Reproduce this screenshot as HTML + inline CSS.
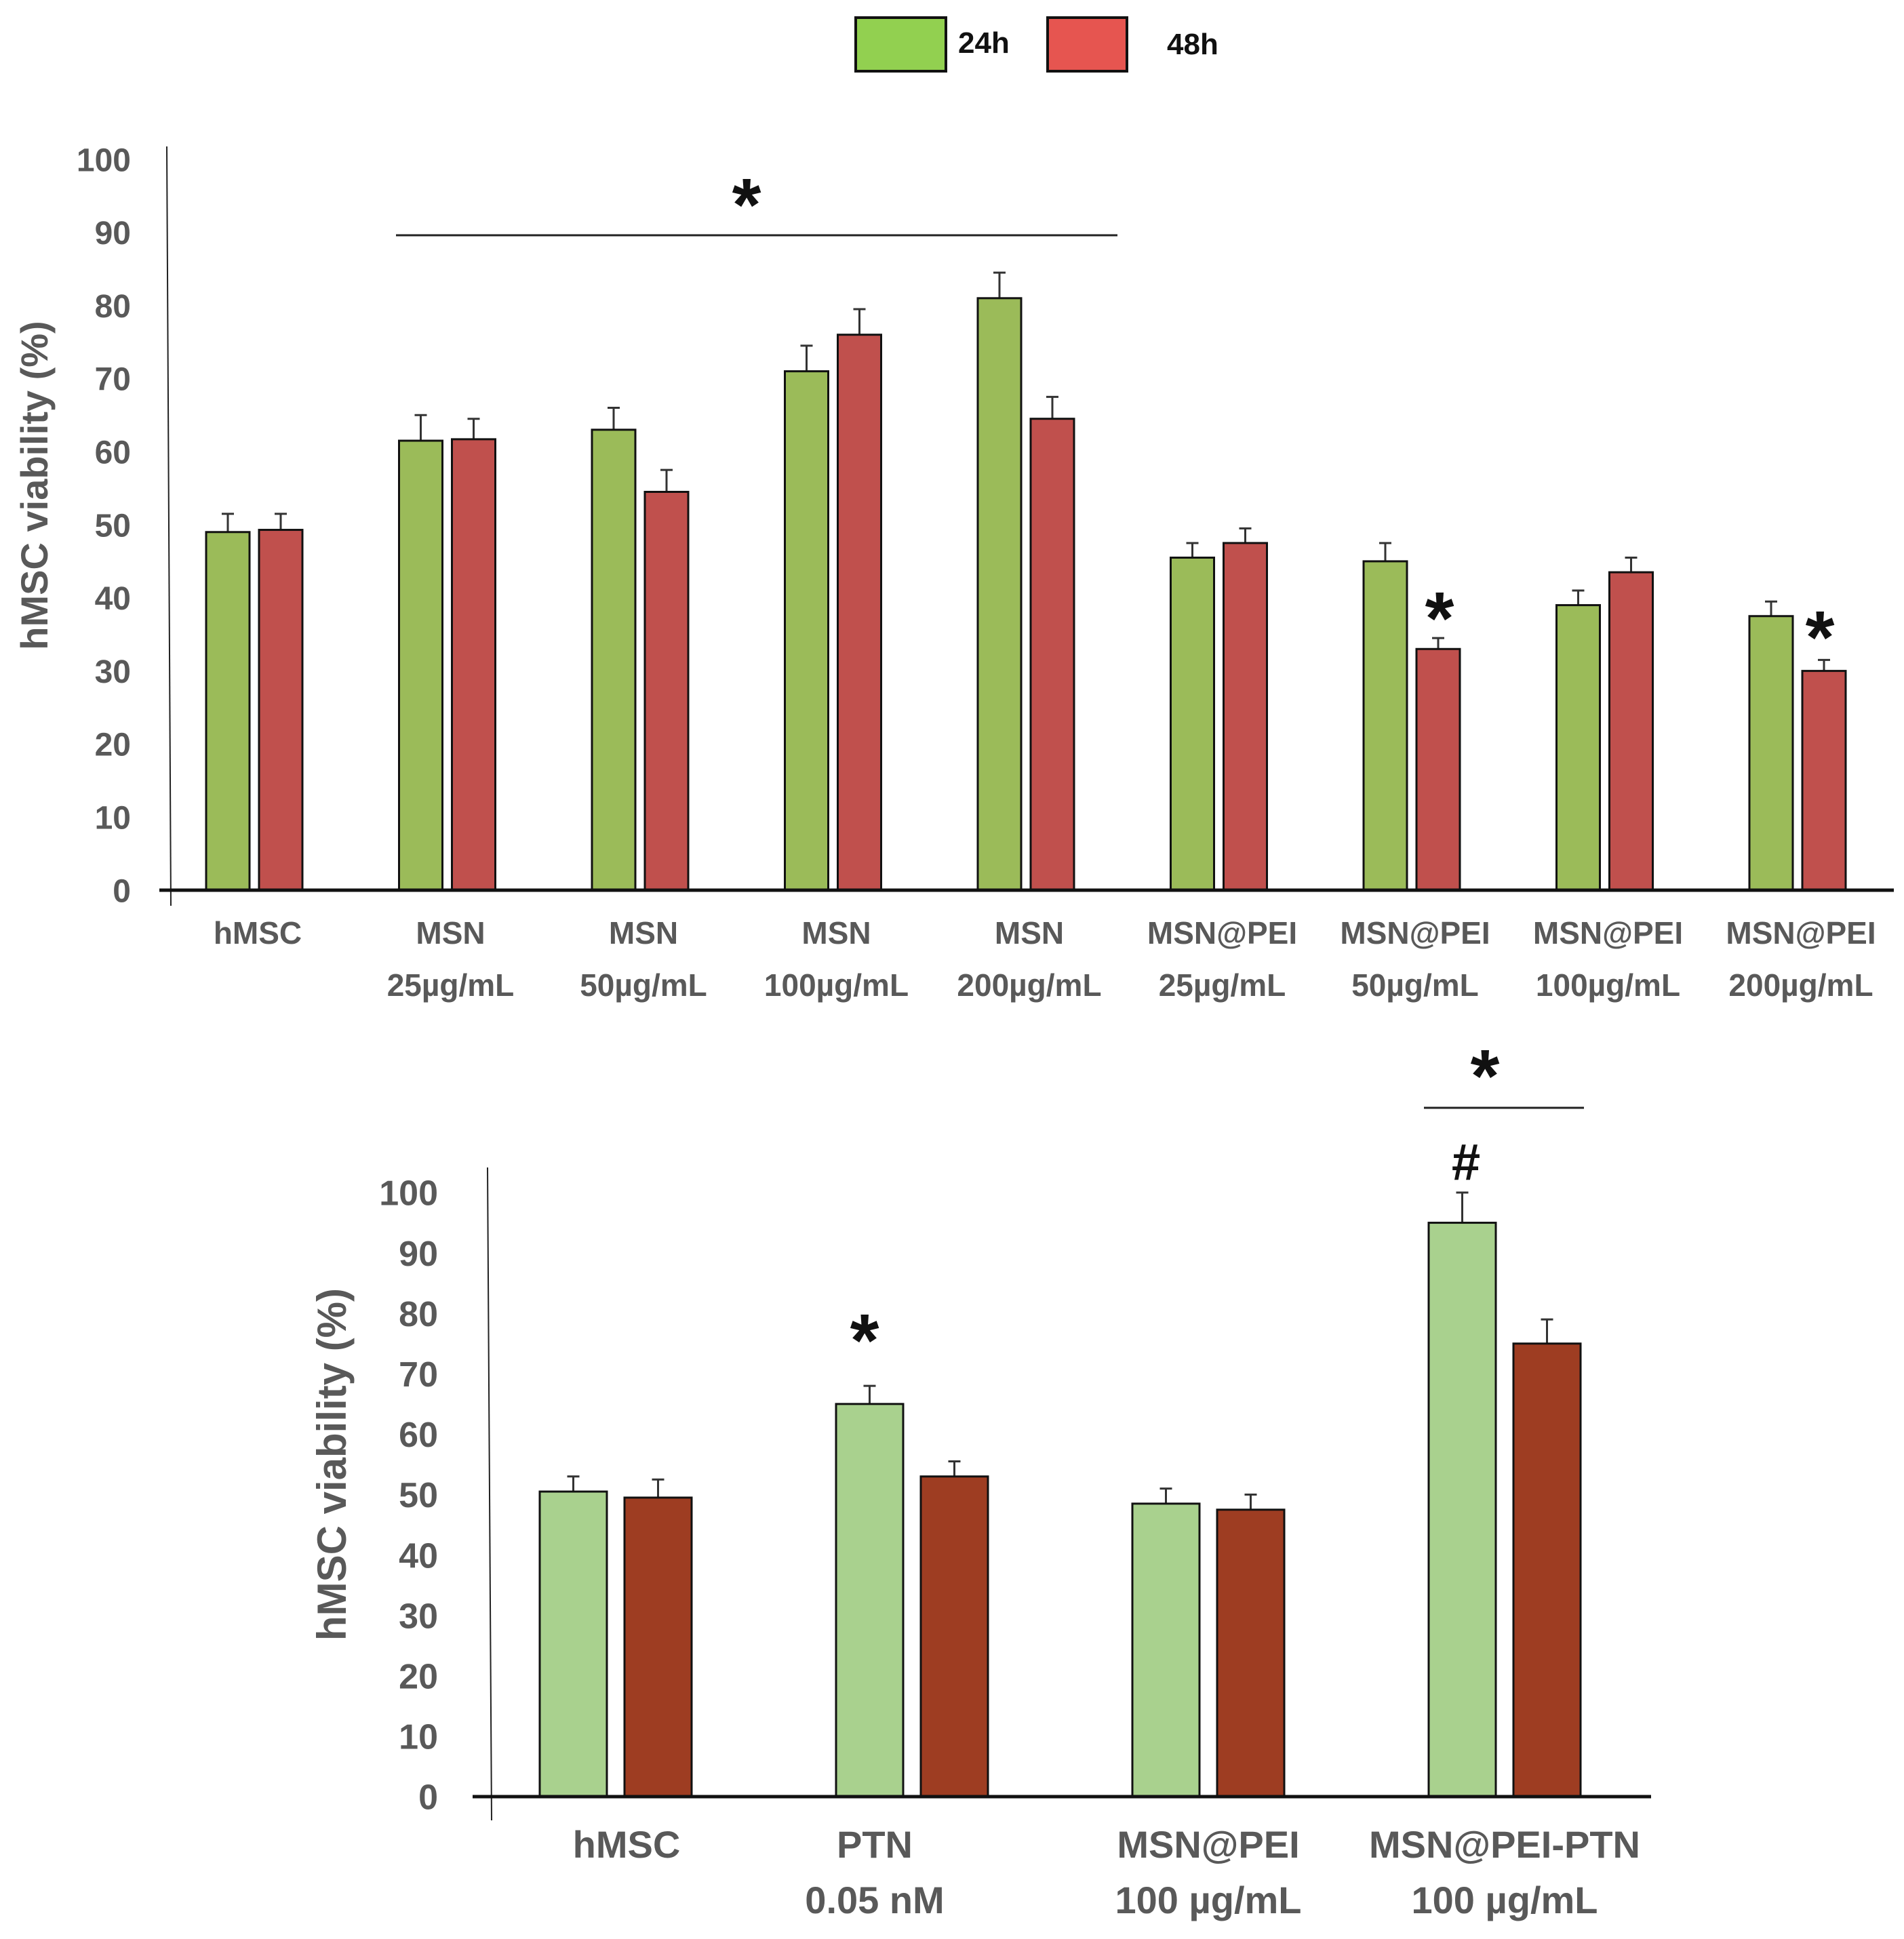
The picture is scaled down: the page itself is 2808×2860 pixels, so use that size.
<!DOCTYPE html>
<html><head><meta charset="utf-8"><style>
html,body{margin:0;padding:0;background:#fff}
svg{display:block}
text{font-family:"Liberation Sans",sans-serif;font-weight:bold}
</style></head><body>
<svg id="s" width="2808" height="2860" viewBox="0 0 2808 2860" xmlns="http://www.w3.org/2000/svg">
<g>
<rect x="1262" y="26" width="133" height="79" fill="#92D050" stroke="#111" stroke-width="4"/>
<text x="1413" y="78" font-size="44" fill="#111">24h</text>
<rect x="1545" y="26" width="117" height="79" fill="#E65550" stroke="#111" stroke-width="4"/>
<text x="1721" y="80" font-size="44" fill="#111">48h</text>
</g>
<g id="top"></g>
<g id="bot"></g>
</svg>
<script>
// Top chart data
const topCategories = [["hMSC",""],["MSN","25µg/mL"],["MSN","50µg/mL"],["MSN","100µg/mL"],["MSN","200µg/mL"],["MSN@PEI","25µg/mL"],["MSN@PEI","50µg/mL"],["MSN@PEI","100µg/mL"],["MSN@PEI","200µg/mL"]];
const top24 = [49, 61.5, 63, 71, 81, 45.5, 45, 39, 37.5];
const top48 = [49.3, 61.7, 54.5, 76, 64.5, 47.5, 33, 43.5, 30];
const top24Err = [2.5, 3.5, 3, 3.5, 3.5, 2, 2.5, 2, 2];
const top48Err = [2.2, 2.8, 3, 3.5, 3, 2, 1.5, 2, 1.5];
const topTicks = [0,10,20,30,40,50,60,70,80,90,100];
// Bottom chart data
const botCategories = [["hMSC",""],["PTN","0.05 nM"],["MSN@PEI","100 µg/mL"],["MSN@PEI-PTN","100 µg/mL"]];
const bot24 = [50.5, 65, 48.5, 95];
const bot48 = [49.5, 53, 47.5, 75];
const bot24Err = [2.5, 3, 2.5, 5];
const bot48Err = [3, 2.5, 2.5, 4];
const botTicks = [0,10,20,30,40,50,60,70,80,90,100];

const NS="http://www.w3.org/2000/svg";
function mk(parent,tag,attrs,txt){const e=document.createElementNS(NS,tag);for(const k in attrs)e.setAttribute(k,attrs[k]);if(txt!==undefined)e.textContent=txt;parent.appendChild(e);return e;}

function chart(g,cfg){
  const y=v=>cfg.y0-(v/100)*(cfg.y0-cfg.y100);
  const x=i=>cfg.c0+i*cfg.step;
  const ya=mk(g,"line",{x1:cfg.ax,y1:cfg.axTop,x2:cfg.ax+6,y2:cfg.axBot,stroke:"#222","stroke-width":2});
  
  
  cfg.ticks.forEach(t=>{
    const tl=mk(g,"text",{x:cfg.tickX,y:y(t)+cfg.fs*0.36,"font-size":cfg.fs,fill:"#595959","text-anchor":"end"},t);
    
    
  });
  const yt=mk(g,"text",{x:0,y:0,"font-size":cfg.titleFs,fill:"#595959","text-anchor":"middle",transform:`translate(${cfg.titleX},${cfg.titleY}) rotate(-90)`},"hMSC viability (%)");
  
  
  cfg.cats.forEach((c,i)=>{
    const cx=x(i);
    [[cfg.s24,cfg.e24,cfg.gOff,cfg.col24,'bar-24h'],[cfg.s48,cfg.e48,cfg.rOff,cfg.col48,'bar-48h']].forEach(([s,e,off,col,nm])=>{
      const bx=cx+off, top=y(s[i]), mid=bx+cfg.bw/2;
      const el=mk(g,"line",{x1:mid,y1:top,x2:mid,y2:y(s[i]+e[i]),stroke:"#333","stroke-width":3});
      
      
      const cap=mk(g,"line",{x1:mid-9,y1:y(s[i]+e[i]),x2:mid+9,y2:y(s[i]+e[i]),stroke:"#333","stroke-width":3});
      
      
      const r=mk(g,"rect",{x:bx,y:top,width:cfg.bw,height:cfg.y0-top,fill:col,stroke:"#111","stroke-width":3});
      
      
    });
    const lo=cfg.lblOffs[i];
    const l1=mk(g,"text",{x:cx+lo,y:cfg.l1y,"font-size":cfg.lfs,fill:"#595959","text-anchor":"middle"},c[0]);
    
    
    if(c[1]){const l2=mk(g,"text",{x:cx+lo,y:cfg.l2y,"font-size":cfg.lfs,fill:"#595959","text-anchor":"middle"},c[1]);
      
      }
  });
  const xa=mk(g,"line",{x1:cfg.xa0,y1:cfg.y0,x2:cfg.xa1,y2:cfg.y0,stroke:"#111","stroke-width":5});
  
  
  return {x,y};
}

const T=document.getElementById('top');
chart(T,{cats:topCategories,s24:top24,s48:top48,e24:top24Err,e48:top48Err,ticks:topTicks,
 y0:1313,y100:235,c0:380,step:284.5,ax:246,axTop:216,axBot:1336,xa0:235,xa1:2793,
 tickX:193,fs:48,titleFs:56,titleX:70,titleY:716,bw:64,gOff:-76,rOff:2,col24:"#9BBB59",col48:"#C0504D",
 lfs:46,l1y:1392,l2y:1469,lblOffs:[0,0,0,0,0,0,0,0,0]});
const B=document.getElementById('bot');
chart(B,{cats:botCategories,s24:bot24,s48:bot48,e24:bot24Err,e48:bot48Err,ticks:botTicks,
 y0:2650,y100:1759,c0:908,step:437,ax:719,axTop:1722,axBot:2685,xa0:697,xa1:2435,
 tickX:646,fs:52,titleFs:60,titleX:510,titleY:2160,bw:99,gOff:-112,rOff:13,col24:"#A9D18E",col48:"#9E3D22",
 lfs:56,l1y:2740,l2y:2822,lblOffs:[16,-55,0,0]});

function ann(g,tag,attrs,txt,name){const e=mk(g,tag,attrs,txt);}
ann(T,"line",{x1:584,y1:347,x2:1648,y2:347,stroke:"#222","stroke-width":3},undefined,'significance-bracket');
ann(T,"text",{x:1101,y:340,"font-size":110,fill:"#111","text-anchor":"middle"},"*",'significance-star');
ann(T,"text",{x:2123,y:950,"font-size":110,fill:"#111","text-anchor":"middle"},"*",'significance-star');
ann(T,"text",{x:2684,y:978,"font-size":110,fill:"#111","text-anchor":"middle"},"*",'significance-star');
ann(B,"text",{x:1275,y:2015,"font-size":110,fill:"#111","text-anchor":"middle"},"*",'significance-star');
ann(B,"line",{x1:2100,y1:1634,x2:2336,y2:1634,stroke:"#222","stroke-width":3},undefined,'significance-bracket');
ann(B,"text",{x:2190,y:1625,"font-size":110,fill:"#111","text-anchor":"middle"},"*",'significance-star');
ann(B,"text",{x:2162,y:1740,"font-size":76,fill:"#111","text-anchor":"middle"},"#",'hash-marker');
</script>
</body></html>
